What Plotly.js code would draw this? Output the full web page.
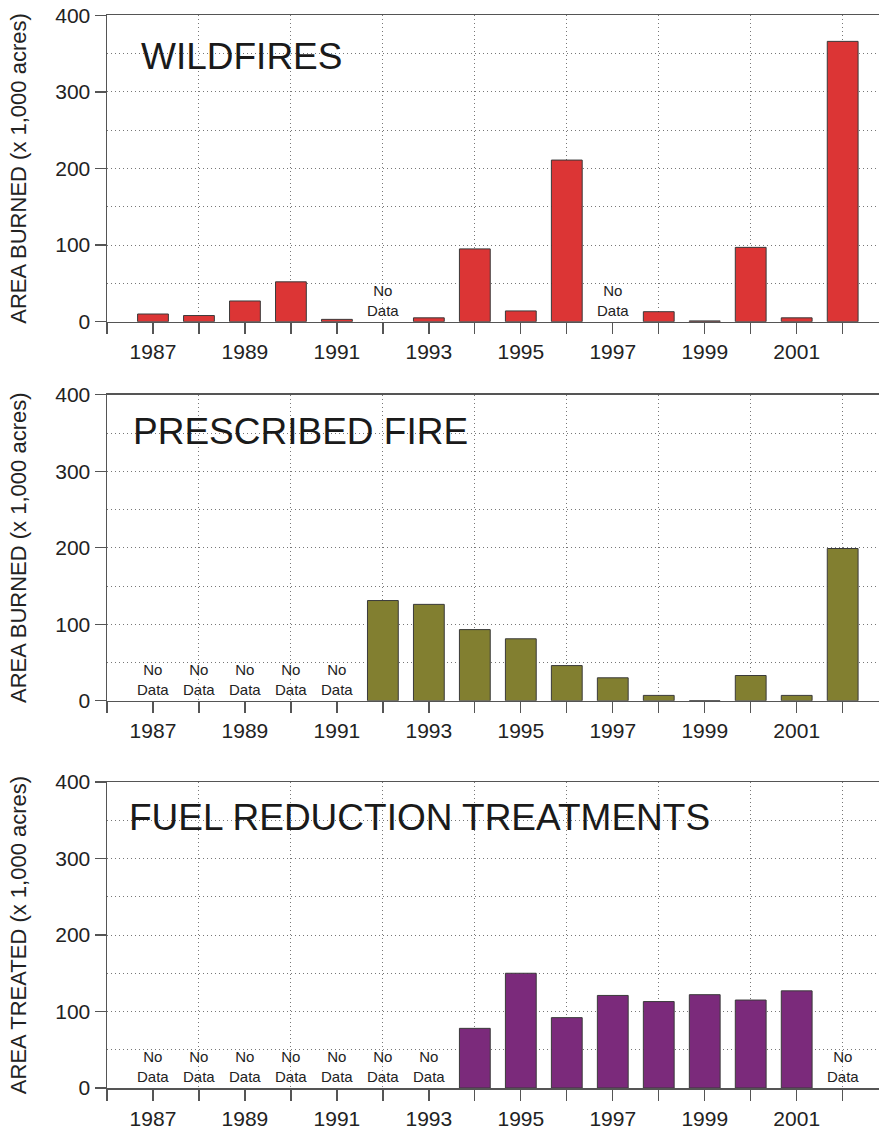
<!DOCTYPE html>
<html>
<head>
<meta charset="utf-8">
<script src="https://cdn.plot.ly/plotly-3.0.1.min.js"></script>
<style>html,body{margin:0;padding:0;background:#fff;}#chart{width:879px;height:1135px;}</style>
</head>
<body>
<div id="chart"></div>
<script>
// ---- data ----
const years = [1987,1988,1989,1990,1991,1992,1993,1994,1995,1996,1997,1998,1999,2000,2001,2002];
// null = "No Data"
const wildfires  = [10, 8, 27, 52, 3, null, 5, 95, 14, 211, null, 13, 1, 97, 5, 366];
const prescribed = [null, null, null, null, null, 131, 126, 93, 81, 46, 30, 7, 0, 33, 7, 199];
const fuelReduction = [null, null, null, null, null, null, null, 78, 150, 92, 121, 113, 122, 115, 127, null];
const panelTitles = ["WILDFIRES", "PRESCRIBED FIRE", "FUEL REDUCTION TREATMENTS"];
const yTitles = ["AREA BURNED (x 1,000 acres)", "AREA BURNED (x 1,000 acres)", "AREA TREATED (x 1,000 acres)"];
const xLabelYears = [1987,1989,1991,1993,1995,1997,1999,2001];
const evenYears = [1986,1988,1990,1992,1994,1996,1998,2000,2002];
const yTicks = [0,100,200,300,400];
const noDataText = "No<br>Data";

// ---- style ----
const colors = ["#DC3535", "#827F30", "#7B2A7B"];
const series = [wildfires, prescribed, fuelReduction];
const domains = [[0.7166, 0.9865], [0.3826, 0.6522], [0.0414, 0.3110]];
const titleY = [346, 352, 353];
const titleX = [1986.70, 1986.52, 1986.43];
const axisColor = "#555555";
const gridColor = "#777777";
const gridDash = "1px,3px";
const font = "Liberation Sans, Arial, sans-serif";

const data = [];
const layout = {
  width: 879, height: 1135,
  margin: {l: 0, r: 0, t: 0, b: 0},
  paper_bgcolor: "#fff", plot_bgcolor: "#fff",
  showlegend: false,
  font: {family: font, color: "#222"},
  annotations: []
};

series.forEach((vals, i) => {
  const n = i === 0 ? "" : String(i + 1);
  const xa = "x" + n, ya = "y" + n;
  data.push({
    type: "bar", x: years, y: vals,
    xaxis: xa, yaxis: ya,
    marker: {color: colors[i], line: {color: "#3a3a3a", width: 1}},
    width: 0.67, hoverinfo: "x+y"
  });
  layout["xaxis" + n] = {
    domain: [107/879, 1], anchor: ya, range: [1986, 2002.79],
    tickmode: "array", tickvals: xLabelYears, ticktext: xLabelYears.map(String),
    ticks: "outside", ticklen: 11, tickwidth: 1.3, tickcolor: axisColor,
    showgrid: false, zeroline: false,
    showline: true, linecolor: axisColor, linewidth: 1.5, mirror: true,
    tickfont: {size: 21, family: font, color: "#222"},
    minor: {tickmode: "array", tickvals: evenYears, ticks: "outside", ticklen: 11, tickwidth: 1.3, tickcolor: axisColor,
            showgrid: true, gridcolor: gridColor, griddash: gridDash, gridwidth: 1},
    fixedrange: true
  };
  layout["yaxis" + n] = {
    domain: domains[i], anchor: xa, range: [0, 400],
    tickmode: "array", tickvals: yTicks,
    ticks: "outside", ticklen: 11, tickwidth: 1.3, tickcolor: axisColor,
    showgrid: true, gridcolor: gridColor, griddash: gridDash, gridwidth: 1,
    zeroline: false, showline: true, linecolor: axisColor, linewidth: 1.5,
    tickfont: {size: 21, family: font, color: "#222"},
    minor: {tickmode: "array", tickvals: [50,150,250,350], ticks: "", showgrid: true, gridcolor: gridColor, griddash: gridDash, gridwidth: 1},
    title: {text: yTitles[i], font: {size: 22, family: font, color: "#222"}, standoff: 22},
    fixedrange: true
  };
  layout.annotations.push({
    xref: xa, yref: ya, x: titleX[i], y: titleY[i], xanchor: "left", yanchor: "middle",
    text: panelTitles[i], showarrow: false, font: {size: 37, family: font, color: "#1a1a1a"}
  });
  vals.forEach((v, k) => {
    if (v === null) {
      layout.annotations.push({
        xref: xa, yref: ya, x: years[k], y: 0, xanchor: "center", yanchor: "bottom", yshift: 1,
        text: noDataText, showarrow: false, font: {size: 15, family: font, color: "#222"}
      });
    }
  });
});

Plotly.newPlot("chart", data, layout, {displayModeBar: false, staticPlot: true});
</script>
</body>
</html>
